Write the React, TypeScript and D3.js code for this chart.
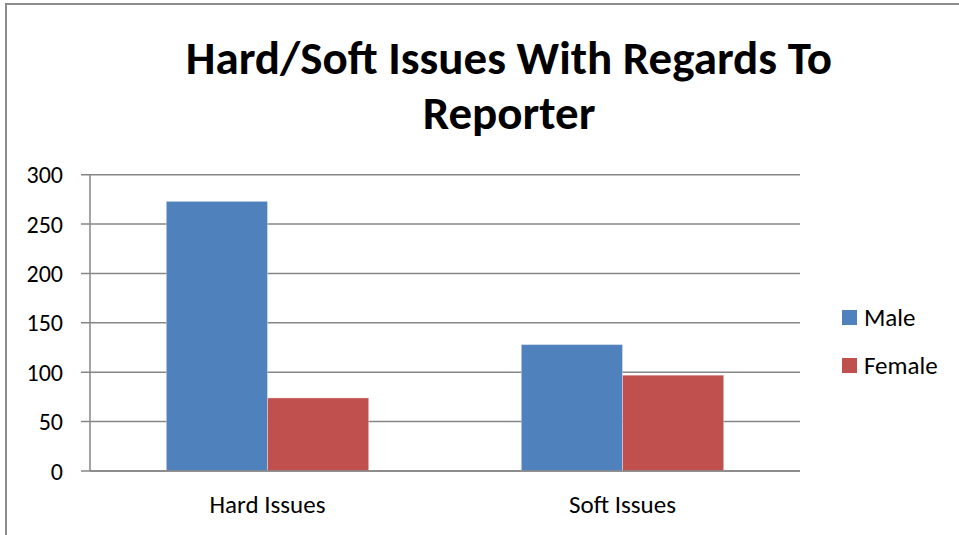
import React from "react";
import * as d3 from "d3";

const categories = ["Hard Issues", "Soft Issues"];
const seriesNames = ["Male", "Female"];
const maleValues = [273, 128];
const femaleValues = [74, 97];
const yTicks = [0, 50, 100, 150, 200, 250, 300];
const titleLines = ["Hard/Soft Issues With Regards To", "Reporter"];
const colors = ["#4F81BD", "#C0504D"];

const FONT = "Carlito, Calibri, Lato, 'Open Sans', sans-serif";

export default function App() {
  const W = 959;
  const H = 535;
  const plotLeft = 90;
  const plotRight = 800;
  const y = d3.scaleLinear().domain([0, 300]).range([471, 174.7]);
  const x0 = d3.scaleBand<string>().domain(categories).range([plotLeft, plotRight]).paddingInner(0.43).paddingOuter(0.215);
  const x1 = d3.scaleBand<string>().domain(seriesNames).range([0, x0.bandwidth()]);
  const series = [maleValues, femaleValues];
  const grid = "#868686";

  return (
    <svg width={W} height={H} style={{ position: "absolute", left: 0, top: 0, background: "#fff" }}>
      <rect x={6} y={4} width={W} height={H} fill="#fff" stroke="#8c8c8c" strokeWidth={2} />
      {titleLines.map((t, i) => (
        <text key={t} x={509} y={74 + i * 55} textAnchor="middle" fontFamily={FONT} fontWeight="bold" fontSize={47} fill="#000">
          {t}
        </text>
      ))}
      {yTicks.map((v) => (
        <g key={v}>
          <line x1={81} x2={plotRight} y1={y(v)} y2={y(v)} stroke={grid} strokeWidth={1.5} />
          <text x={63} y={y(v)} dy="0.36em" textAnchor="end" fontFamily={FONT} fontSize={24} fill="#000">
            {v}
          </text>
        </g>
      ))}
      <line x1={plotLeft} x2={plotLeft} y1={y(300)} y2={y(0)} stroke={grid} strokeWidth={1.5} />
      {categories.map((c, ci) => (
        <g key={c}>
          {seriesNames.map((s, si) => (
            <rect
              key={s}
              x={(x0(c) as number) + (x1(s) as number)}
              y={y(series[si][ci])}
              width={x1.bandwidth()}
              height={y(0) - y(series[si][ci])}
              fill={colors[si]}
              stroke="#ffffff"
              strokeOpacity={0.35}
              strokeWidth={1}
            />
          ))}
          <text x={(x0(c) as number) + x0.bandwidth() / 2} y={513} textAnchor="middle" fontFamily={FONT} fontSize={25} fill="#000">
            {c}
          </text>
        </g>
      ))}
      <line x1={plotLeft} x2={plotRight} y1={y(0)} y2={y(0)} stroke={grid} strokeWidth={1.5} />
      {seriesNames.map((s, i) => (
        <g key={s}>
          <rect x={842} y={310 + i * 48} width={15} height={15} fill={colors[i]} />
          <text x={864} y={326 + i * 48} fontFamily={FONT} fontSize={25} fill="#000">
            {s}
          </text>
        </g>
      ))}
    </svg>
  );
}
